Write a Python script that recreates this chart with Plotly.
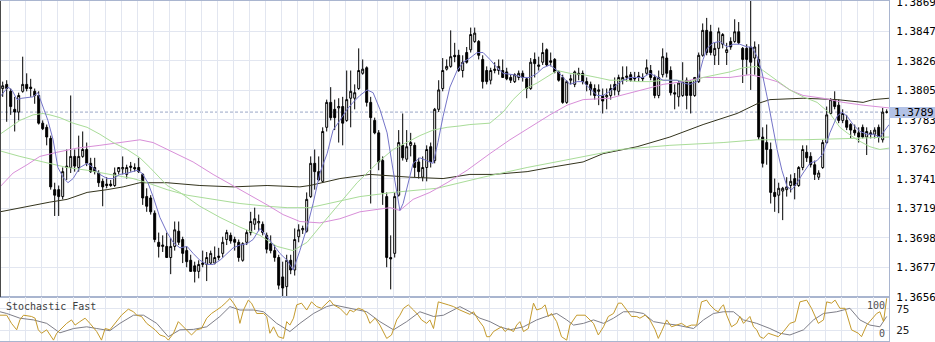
import plotly.graph_objects as go

# ---- OHLC bars ----
opens = [
    1.3806, 1.3809, 1.3804, 1.3791, 1.3789, 1.3804, 1.3809, 1.3807, 1.3804, 1.3801,
    1.3781, 1.3778, 1.3770, 1.3733, 1.3733, 1.3728, 1.3749, 1.3749, 1.3757, 1.3749,
    1.3757, 1.3762, 1.3752, 1.3749, 1.3745, 1.3739, 1.3737, 1.3737, 1.3736, 1.3746,
    1.3748, 1.3744, 1.3749, 1.3749, 1.3749, 1.3744, 1.3728, 1.3727, 1.3716, 1.3695,
    1.3692, 1.3692, 1.3684, 1.3692, 1.3703, 1.3697, 1.3689, 1.3682, 1.3678, 1.3674,
    1.3679, 1.3679, 1.3680, 1.3680, 1.3684, 1.3687, 1.3697, 1.3700, 1.3697, 1.3695,
    1.3682, 1.3695, 1.3702, 1.3708, 1.3709, 1.3708, 1.3700, 1.3694, 1.3689, 1.3684,
    1.3670, 1.3663, 1.3682, 1.3675, 1.3699, 1.3704, 1.3703, 1.3728, 1.3752, 1.3746,
    1.3739, 1.3778, 1.3796, 1.3791, 1.3792, 1.3793, 1.3783, 1.3799, 1.3799, 1.3806,
    1.3817, 1.3821, 1.3796, 1.3783, 1.3774, 1.3754, 1.3728, 1.3684, 1.3687, 1.3729,
    1.3765, 1.3755, 1.3765, 1.3765, 1.3753, 1.3742, 1.3749, 1.3764, 1.3754, 1.3791,
    1.3806, 1.3820, 1.3822, 1.3830, 1.3830, 1.3819, 1.3832, 1.3834, 1.3840, 1.3840,
    1.3827, 1.3819, 1.3812, 1.3819, 1.3819, 1.3819, 1.3818, 1.3814, 1.3811, 1.3814,
    1.3817, 1.3813, 1.3806, 1.3827, 1.3822, 1.3825, 1.3834, 1.3826, 1.3827, 1.3818,
    1.3814, 1.3796, 1.3812, 1.3809, 1.3817, 1.3817, 1.3811, 1.3809, 1.3806, 1.3804,
    1.3801, 1.3800, 1.3801, 1.3809, 1.3804, 1.3812, 1.3814, 1.3816, 1.3814, 1.3814,
    1.3814, 1.3817, 1.3819, 1.3814, 1.3801, 1.3816, 1.3828, 1.3819, 1.3803, 1.3800,
    1.3801, 1.3812, 1.3811, 1.3801, 1.3811, 1.3830, 1.3848, 1.3847, 1.3830, 1.3835,
    1.3838, 1.3832, 1.3840, 1.3840, 1.3847, 1.3835, 1.3835, 1.3836, 1.3828, 1.3827,
    1.3771, 1.3767, 1.3762, 1.3731, 1.3729, 1.3732, 1.3733, 1.3736, 1.3741, 1.3736,
    1.3749, 1.3760, 1.3757, 1.3751, 1.3742, 1.3749, 1.3767, 1.3788, 1.3798, 1.3794,
    1.3783, 1.3783, 1.3780, 1.3776, 1.3774, 1.3778, 1.3771, 1.3774, 1.3773, 1.3778,
    1.3769, 1.3789,
]
highs = [
    1.3811, 1.3812, 1.3806, 1.3800, 1.3803, 1.3829, 1.3817, 1.3813, 1.3806, 1.3804,
    1.3783, 1.3780, 1.3772, 1.3738, 1.3736, 1.3749, 1.3762, 1.3801, 1.3762, 1.3772,
    1.3775, 1.3767, 1.3756, 1.3756, 1.3747, 1.3741, 1.3742, 1.3740, 1.3749, 1.3749,
    1.3757, 1.3751, 1.3753, 1.3752, 1.3756, 1.3745, 1.3734, 1.3729, 1.3718, 1.3702,
    1.3700, 1.3702, 1.3698, 1.3710, 1.3710, 1.3699, 1.3692, 1.3686, 1.3681, 1.3682,
    1.3689, 1.3688, 1.3689, 1.3692, 1.3691, 1.3699, 1.3704, 1.3702, 1.3699, 1.3697,
    1.3695, 1.3704, 1.3717, 1.3720, 1.3715, 1.3710, 1.3702, 1.3700, 1.3693, 1.3686,
    1.3681, 1.3686, 1.3686, 1.3705, 1.3708, 1.3707, 1.3731, 1.3757, 1.3762, 1.3757,
    1.3778, 1.3798, 1.3807, 1.3798, 1.3799, 1.3800, 1.3819, 1.3819, 1.3809, 1.3835,
    1.3827, 1.3822, 1.3800, 1.3785, 1.3776, 1.3757, 1.3731, 1.3700, 1.3731, 1.3776,
    1.3788, 1.3776, 1.3774, 1.3767, 1.3756, 1.3757, 1.3765, 1.3767, 1.3792, 1.3812,
    1.3828, 1.3827, 1.3848, 1.3839, 1.3834, 1.3830, 1.3836, 1.3850, 1.3850, 1.3841,
    1.3830, 1.3822, 1.3821, 1.3825, 1.3827, 1.3827, 1.3821, 1.3816, 1.3817, 1.3819,
    1.3819, 1.3814, 1.3828, 1.3832, 1.3829, 1.3839, 1.3835, 1.3832, 1.3828, 1.3819,
    1.3816, 1.3812, 1.3816, 1.3819, 1.3821, 1.3819, 1.3814, 1.3811, 1.3809, 1.3809,
    1.3806, 1.3806, 1.3809, 1.3814, 1.3816, 1.3822, 1.3822, 1.3818, 1.3818, 1.3818,
    1.3817, 1.3827, 1.3823, 1.3816, 1.3819, 1.3835, 1.3832, 1.3822, 1.3809, 1.3812,
    1.3825, 1.3814, 1.3812, 1.3814, 1.3832, 1.3853, 1.3857, 1.3852, 1.3839, 1.3850,
    1.3846, 1.3839, 1.3843, 1.3856, 1.3854, 1.3836, 1.3838, 1.3870, 1.3840, 1.3838,
    1.3778, 1.3780, 1.3767, 1.3741, 1.3738, 1.3735, 1.3742, 1.3744, 1.3745, 1.3750,
    1.3765, 1.3765, 1.3760, 1.3754, 1.3747, 1.3769, 1.3793, 1.3799, 1.3804, 1.3798,
    1.3791, 1.3787, 1.3781, 1.3780, 1.3778, 1.3780, 1.3778, 1.3776, 1.3778, 1.3780,
    1.3792, 1.3791,
]
lows = [
    1.3800, 1.3782, 1.3787, 1.3775, 1.3783, 1.3803, 1.3804, 1.3800, 1.3795, 1.3780,
    1.3776, 1.3765, 1.3733, 1.3714, 1.3714, 1.3726, 1.3740, 1.3745, 1.3746, 1.3746,
    1.3756, 1.3750, 1.3745, 1.3744, 1.3735, 1.3721, 1.3734, 1.3735, 1.3735, 1.3744,
    1.3744, 1.3741, 1.3746, 1.3746, 1.3745, 1.3722, 1.3717, 1.3715, 1.3695, 1.3684,
    1.3688, 1.3684, 1.3672, 1.3689, 1.3693, 1.3680, 1.3677, 1.3674, 1.3666, 1.3669,
    1.3677, 1.3667, 1.3679, 1.3679, 1.3682, 1.3684, 1.3693, 1.3694, 1.3689, 1.3681,
    1.3681, 1.3693, 1.3700, 1.3704, 1.3703, 1.3700, 1.3687, 1.3687, 1.3681, 1.3661,
    1.3656, 1.3656, 1.3672, 1.3671, 1.3695, 1.3701, 1.3702, 1.3727, 1.3733, 1.3739,
    1.3738, 1.3775, 1.3783, 1.3776, 1.3767, 1.3765, 1.3782, 1.3778, 1.3791, 1.3805,
    1.3816, 1.3793, 1.3723, 1.3773, 1.3747, 1.3722, 1.3677, 1.3661, 1.3684, 1.3728,
    1.3754, 1.3753, 1.3757, 1.3742, 1.3741, 1.3739, 1.3739, 1.3749, 1.3752, 1.3789,
    1.3804, 1.3819, 1.3821, 1.3825, 1.3818, 1.3814, 1.3824, 1.3832, 1.3839, 1.3827,
    1.3806, 1.3809, 1.3809, 1.3817, 1.3816, 1.3814, 1.3812, 1.3810, 1.3810, 1.3812,
    1.3811, 1.3799, 1.3805, 1.3814, 1.3819, 1.3823, 1.3822, 1.3822, 1.3817, 1.3811,
    1.3795, 1.3795, 1.3809, 1.3807, 1.3812, 1.3809, 1.3804, 1.3801, 1.3798, 1.3794,
    1.3788, 1.3791, 1.3798, 1.3801, 1.3801, 1.3809, 1.3811, 1.3811, 1.3811, 1.3811,
    1.3811, 1.3816, 1.3812, 1.3799, 1.3799, 1.3814, 1.3814, 1.3801, 1.3791, 1.3793,
    1.3800, 1.3791, 1.3788, 1.3800, 1.3810, 1.3829, 1.3830, 1.3830, 1.3823, 1.3823,
    1.3835, 1.3823, 1.3834, 1.3839, 1.3838, 1.3810, 1.3816, 1.3805, 1.3816, 1.3769,
    1.3749, 1.3751, 1.3723, 1.3717, 1.3716, 1.3711, 1.3728, 1.3731, 1.3726, 1.3735,
    1.3747, 1.3753, 1.3749, 1.3740, 1.3740, 1.3748, 1.3766, 1.3787, 1.3791, 1.3781,
    1.3781, 1.3776, 1.3770, 1.3772, 1.3767, 1.3770, 1.3758, 1.3770, 1.3770, 1.3767,
    1.3767, 1.3788,
]
closes = [
    1.3808, 1.3806, 1.3793, 1.3789, 1.3801, 1.3809, 1.3806, 1.3806, 1.3801, 1.3781,
    1.3777, 1.3771, 1.3735, 1.3729, 1.3728, 1.3746, 1.3750, 1.3757, 1.3750, 1.3757,
    1.3762, 1.3752, 1.3746, 1.3746, 1.3738, 1.3735, 1.3736, 1.3736, 1.3745, 1.3749,
    1.3749, 1.3749, 1.3750, 1.3748, 1.3746, 1.3727, 1.3721, 1.3717, 1.3697, 1.3692,
    1.3693, 1.3684, 1.3692, 1.3704, 1.3695, 1.3687, 1.3681, 1.3674, 1.3674, 1.3679,
    1.3680, 1.3684, 1.3687, 1.3684, 1.3685, 1.3695, 1.3702, 1.3696, 1.3695, 1.3684,
    1.3694, 1.3702, 1.3710, 1.3712, 1.3710, 1.3702, 1.3690, 1.3689, 1.3684, 1.3664,
    1.3662, 1.3682, 1.3675, 1.3697, 1.3704, 1.3705, 1.3726, 1.3752, 1.3746, 1.3740,
    1.3775, 1.3796, 1.3785, 1.3785, 1.3793, 1.3781, 1.3798, 1.3804, 1.3803, 1.3819,
    1.3820, 1.3796, 1.3785, 1.3774, 1.3753, 1.3731, 1.3684, 1.3683, 1.3728, 1.3767,
    1.3756, 1.3764, 1.3767, 1.3749, 1.3746, 1.3749, 1.3762, 1.3753, 1.3791, 1.3805,
    1.3819, 1.3822, 1.3829, 1.3829, 1.3819, 1.3825, 1.3825, 1.3845, 1.3846, 1.3830,
    1.3811, 1.3811, 1.3819, 1.3820, 1.3822, 1.3814, 1.3813, 1.3812, 1.3816, 1.3817,
    1.3814, 1.3806, 1.3825, 1.3824, 1.3823, 1.3832, 1.3823, 1.3825, 1.3818, 1.3812,
    1.3796, 1.3811, 1.3813, 1.3818, 1.3816, 1.3811, 1.3809, 1.3805, 1.3801, 1.3805,
    1.3797, 1.3801, 1.3806, 1.3805, 1.3814, 1.3814, 1.3815, 1.3812, 1.3813, 1.3815,
    1.3813, 1.3821, 1.3814, 1.3801, 1.3814, 1.3829, 1.3817, 1.3803, 1.3802, 1.3810,
    1.3811, 1.3801, 1.3801, 1.3814, 1.3830, 1.3848, 1.3832, 1.3832, 1.3835, 1.3847,
    1.3845, 1.3834, 1.3836, 1.3847, 1.3839, 1.3827, 1.3827, 1.3825, 1.3836, 1.3771,
    1.3752, 1.3762, 1.3731, 1.3728, 1.3734, 1.3734, 1.3735, 1.3739, 1.3736, 1.3749,
    1.3762, 1.3756, 1.3751, 1.3744, 1.3745, 1.3767, 1.3787, 1.3798, 1.3793, 1.3783,
    1.3788, 1.3778, 1.3776, 1.3774, 1.3771, 1.3771, 1.3775, 1.3773, 1.3776, 1.3771,
    1.3789, 1.3789,
]
bar_index = list(range(len(opens)))

# ---- moving averages (bar position, price) ----
ma_fast_pos = [
    -0.68, 1.3, 2.3, 3.6, 4.8, 7.6, 8.8, 10.1, 11.3, 12.6,
    13.8, 15.1, 16.3, 17.6, 19.3, 21.1, 22.6, 24.3, 26.1, 27.6,
    29.3, 31.3, 33.6, 34.8, 36.3, 37.6, 39.3, 41.1, 42.6, 44.3,
    46.1, 47.6, 49.3, 51.1, 52.6, 54.3, 56.1, 57.6, 59.3, 61.1,
    62.6, 64.3, 66.1, 67.6, 69.3, 71.1, 72.6, 74.3, 76.1, 77.6,
    79.3, 81.1, 82.6, 84.3, 86.1, 87.6, 89.3, 91.1, 92.6, 94.3,
    96.1, 97.6, 98.6, 99.3, 100.1, 101.3, 102.6, 104.3, 106.1, 107.6,
    108.8, 110.1, 111.8, 113.6, 115.1, 116.8, 118.6, 120.1, 121.8, 123.6,
    125.1, 127.6, 130.1, 131.8, 133.6, 135.1, 136.8, 138.6, 140.1, 141.8,
    143.6, 145.1, 146.8, 148.6, 150.1, 151.8, 153.6, 155.1, 156.8, 158.6,
    160.1, 161.8, 163.6, 165.1, 166.8, 168.6, 170.1, 171.8, 173.6, 174.3,
    175.1, 176.1, 177.6, 179.3, 181.1, 182.6, 184.3, 186.1, 187.3, 188.6,
    189.8, 191.1, 192.3, 193.6, 194.8, 196.1, 197.3, 198.6, 200.1, 201.8,
    203.6, 205.1, 206.8, 208.6, 209.8, 211.1, 212.6, 214.3, 216.1, 217.6,
    219.3, 221.1, 221.6,
]
ma_fast_val = [
    1.3800, 1.3807, 1.3805, 1.3798, 1.3799, 1.3800, 1.3803, 1.3793, 1.3783, 1.3769,
    1.3749, 1.3742, 1.3738, 1.3741, 1.3749, 1.3752, 1.3749, 1.3744, 1.3741, 1.3741,
    1.3744, 1.3745, 1.3747, 1.3745, 1.3738, 1.3728, 1.3713, 1.3702, 1.3695, 1.3691,
    1.3692, 1.3687, 1.3682, 1.3679, 1.3679, 1.3682, 1.3687, 1.3691, 1.3693, 1.3694,
    1.3697, 1.3705, 1.3699, 1.3693, 1.3687, 1.3682, 1.3675, 1.3689, 1.3706, 1.3723,
    1.3745, 1.3759, 1.3776, 1.3783, 1.3791, 1.3796, 1.3801, 1.3805, 1.3803, 1.3791,
    1.3774, 1.3747, 1.3728, 1.3718, 1.3723, 1.3738, 1.3752, 1.3756, 1.3754, 1.3752,
    1.3767, 1.3786, 1.3807, 1.3819, 1.3825, 1.3828, 1.3832, 1.3832, 1.3827, 1.3821,
    1.3817, 1.3816, 1.3814, 1.3814, 1.3817, 1.3821, 1.3823, 1.3819, 1.3814, 1.3809,
    1.3811, 1.3811, 1.3806, 1.3801, 1.3801, 1.3804, 1.3809, 1.3812, 1.3814, 1.3814,
    1.3814, 1.3817, 1.3814, 1.3812, 1.3812, 1.3812, 1.3810, 1.3809, 1.3811, 1.3818,
    1.3827, 1.3835, 1.3839, 1.3840, 1.3836, 1.3838, 1.3838, 1.3836, 1.3836, 1.3829,
    1.3818, 1.3800, 1.3781, 1.3762, 1.3747, 1.3735, 1.3733, 1.3738, 1.3745, 1.3752,
    1.3754, 1.3759, 1.3774, 1.3786, 1.3789, 1.3786, 1.3780, 1.3775, 1.3773, 1.3773,
    1.3771, 1.3778, 1.3780,
]
ma_mid_pos = [
    -0.68, 1.8, 4.3, 7.6, 10.1, 11.8, 14.3, 17.6, 21.1, 24.3,
    27.6, 31.1, 34.3, 36.8, 39.3, 41.1, 44.3, 49.3, 54.3, 59.3,
    64.3, 68.6, 72.6, 76.1, 80.1, 84.3, 88.6, 91.8, 94.3, 97.6,
    101.1, 104.3, 107.6, 111.1, 114.3, 116.8, 121.8, 125.1, 127.6, 130.1,
    133.6, 136.8, 138.6, 141.8, 145.1, 148.6, 151.8, 155.1, 158.6, 161.8,
    165.1, 168.6, 171.8, 175.1, 178.6, 181.8, 185.1, 188.6, 190.1, 193.6,
    196.8, 200.1, 203.6, 206.8, 209.3, 211.1, 213.6, 216.8, 219.3, 221.6,
]
ma_mid_val = [
    1.3773, 1.3778, 1.3783, 1.3787, 1.3788, 1.3787, 1.3785, 1.3781, 1.3778, 1.3773,
    1.3767, 1.3762, 1.3756, 1.3749, 1.3741, 1.3736, 1.3731, 1.3721, 1.3713, 1.3706,
    1.3700, 1.3692, 1.3689, 1.3695, 1.3709, 1.3723, 1.3738, 1.3747, 1.3754, 1.3762,
    1.3767, 1.3772, 1.3776, 1.3778, 1.3779, 1.3780, 1.3781, 1.3789, 1.3798, 1.3805,
    1.3810, 1.3816, 1.3819, 1.3817, 1.3816, 1.3814, 1.3812, 1.3812, 1.3811, 1.3811,
    1.3812, 1.3812, 1.3811, 1.3814, 1.3816, 1.3818, 1.3821, 1.3822, 1.3819, 1.3812,
    1.3805, 1.3800, 1.3796, 1.3788, 1.3778, 1.3774, 1.3769, 1.3764, 1.3762, 1.3763,
]
ma_slow_pos = [
    -0.68, 4.3, 10.1, 16.1, 21.1, 26.8, 32.6, 36.1, 41.1, 46.1,
    52.6, 59.3, 66.1, 71.1, 76.8, 89.3, 97.6, 108.6, 120.1, 131.1,
    140.1, 154.3, 166.8, 180.1, 188.6, 200.1, 212.6, 221.6,
]
ma_slow_val = [
    1.3761, 1.3757, 1.3753, 1.3749, 1.3747, 1.3744, 1.3741, 1.3738, 1.3733, 1.3729,
    1.3726, 1.3723, 1.3721, 1.3720, 1.3720, 1.3728, 1.3731, 1.3734, 1.3742, 1.3749,
    1.3754, 1.3762, 1.3765, 1.3767, 1.3769, 1.3769, 1.3770, 1.3771,
]
ma_violet_pos = [
    -0.68, 2.6, 6.1, 9.3, 13.6, 18.6, 24.3, 29.3, 34.3, 37.6,
    42.6, 47.6, 52.6, 57.6, 62.6, 66.1, 70.1, 74.3, 79.3, 84.3,
    89.3, 93.6, 96.8, 99.3, 102.6, 106.8, 111.1, 116.1, 119.3, 121.8,
    126.8, 131.8, 136.8, 141.1, 145.1, 151.8, 158.6, 165.1, 170.1, 175.1,
    181.8, 186.8, 190.1, 193.6, 196.8, 200.1, 205.1, 210.1, 215.1, 221.6,
]
ma_violet_val = [
    1.3735, 1.3745, 1.3751, 1.3757, 1.3760, 1.3763, 1.3765, 1.3767, 1.3769, 1.3767,
    1.3760, 1.3753, 1.3744, 1.3736, 1.3728, 1.3722, 1.3715, 1.3710, 1.3709, 1.3712,
    1.3717, 1.3719, 1.3720, 1.3718, 1.3726, 1.3731, 1.3738, 1.3747, 1.3754, 1.3759,
    1.3769, 1.3778, 1.3787, 1.3794, 1.3798, 1.3799, 1.3804, 1.3809, 1.3811, 1.3814,
    1.3814, 1.3816, 1.3814, 1.3811, 1.3805, 1.3801, 1.3799, 1.3796, 1.3794, 1.3792,
]
ma_long_pos = [
    -0.68, 4.3, 11.8, 16.1, 21.1, 26.1, 30.1, 34.3, 41.1, 49.3,
    57.6, 66.1, 74.3, 76.8, 84.3, 91.8, 96.8, 101.8, 110.1, 116.8,
    122.6, 131.1, 136.8, 145.1, 150.1, 158.6, 166.8, 175.1, 183.6, 188.6,
    191.8, 200.1, 208.6, 215.1, 217.6, 221.6,
]
ma_long_val = [
    1.3717, 1.3720, 1.3724, 1.3726, 1.3731, 1.3733, 1.3735, 1.3738, 1.3738, 1.3736,
    1.3735, 1.3736, 1.3735, 1.3736, 1.3741, 1.3744, 1.3743, 1.3742, 1.3741, 1.3744,
    1.3744, 1.3746, 1.3749, 1.3753, 1.3759, 1.3764, 1.3771, 1.3780, 1.3788, 1.3795,
    1.3798, 1.3799, 1.3798, 1.3796, 1.3798, 1.3799,
]

# ---- Stochastic Fast (%K and %D) ----
stoch_k_pos = [
    -0.68, 1.0, 2.2, 3.5, 4.3, 5.2, 7.2, 8.1, 8.9, 9.7,
    11.0, 11.8, 12.7, 13.5, 14.7, 16.0, 17.2, 18.1, 19.3, 20.6,
    21.8, 23.5, 24.7, 25.6, 26.8, 28.1, 29.7, 31.4, 32.7, 33.5,
    34.7, 36.0, 38.1, 39.3, 40.6, 41.4, 42.7, 43.9, 44.7, 46.0,
    47.2, 48.5, 49.7, 51.0, 52.2, 53.5, 54.7, 56.0, 56.8, 57.7,
    58.5, 59.3, 60.2, 61.4, 62.2, 63.5, 65.2, 66.0, 66.8, 67.7,
    68.9, 70.2, 71.0, 71.8, 72.7, 73.5, 74.7, 76.0, 77.2, 78.5,
    79.7, 81.8, 82.7, 84.3, 86.0, 86.8, 87.7, 88.9, 90.2, 91.0,
    91.8, 93.1, 94.3, 96.0, 97.2, 98.5, 99.3, 100.2, 101.4, 102.7,
    103.9, 104.7, 106.0, 106.8, 107.7, 108.9, 110.2, 111.4, 112.7, 114.3,
    116.8, 117.7, 118.9, 120.2, 121.0, 121.8, 122.7, 123.5, 124.7, 125.6,
    126.4, 127.7, 128.5, 129.3, 130.2, 131.4, 132.7, 133.5, 134.7, 135.6,
    136.4, 137.2, 138.5, 139.7, 141.0, 141.8, 143.5, 145.6, 146.4, 147.7,
    148.9, 150.2, 151.4, 152.7, 153.9, 154.7, 156.0, 157.2, 158.5, 159.3,
    160.6, 161.8, 163.1, 163.9, 164.7, 166.0, 167.2, 168.5, 169.7, 171.0,
    172.2, 173.5, 174.7, 176.0, 176.8, 178.1, 178.9, 179.7, 180.2, 181.0,
    182.2, 183.5, 184.3, 185.2, 186.8, 187.7, 188.5, 189.3, 190.2, 191.4,
    192.7, 193.9, 195.2, 196.8, 198.1, 199.3, 201.0, 202.2, 203.9, 205.2,
    206.0, 207.2, 208.1, 209.3, 210.6, 212.2, 213.9, 214.7, 216.0, 217.2,
    218.5, 219.3, 220.2, 221.0,
]
stoch_k_val = [
    60, 60, 41, 26, 49, 60, 57, 53, 26, 18,
    26, 14, 2, 18, 29, 41, 49, 37, 45, 53,
    41, 22, 2, 29, 26, 41, 60, 74, 68, 60,
    57, 41, 26, 14, 10, 2, 18, 45, 37, 26,
    14, 26, 29, 53, 64, 72, 80, 91, 99, 88,
    76, 41, 72, 95, 88, 64, 64, 57, 18, 33,
    10, 6, 45, 37, 53, 84, 88, 72, 91, 80,
    76, 95, 84, 76, 60, 72, 68, 76, 72, 60,
    41, 53, 37, 6, 14, 49, 60, 76, 84, 72,
    60, 49, 41, 49, 29, 91, 88, 84, 80, 72,
    62, 68, 49, 33, 10, 10, 22, 26, 33, 22,
    29, 22, 37, 45, 22, 29, 88, 72, 76, 84,
    57, 64, 45, 10, 2, 37, 60, 60, 53, 41,
    14, 33, 57, 64, 88, 88, 72, 57, 57, 53,
    60, 49, 26, 6, 22, 49, 33, 37, 41, 33,
    37, 37, 91, 95, 84, 72, 68, 80, 84, 60,
    33, 41, 57, 41, 57, 33, 26, 10, 6, 18,
    14, 10, 22, 41, 45, 91, 95, 76, 41, 49,
    91, 88, 95, 76, 76, 26, 18, 10, 37, 49,
    64, 68, 45, 99,
]
stoch_d_pos = [
    -0.68, 1.0, 4.3, 7.7, 11.0, 14.3, 17.7, 21.0, 23.5, 26.8,
    29.3, 32.7, 35.2, 38.5, 41.4, 44.3, 47.7, 51.0, 54.3, 56.8,
    59.3, 62.7, 65.2, 68.5, 71.8, 74.3, 77.7, 81.0, 82.7, 86.8,
    89.3, 91.0, 94.3, 97.7, 101.0, 104.3, 107.7, 110.2, 114.3, 116.8,
    119.3, 121.8, 124.3, 126.8, 130.2, 133.5, 136.8, 138.5, 141.0, 142.7,
    145.2, 147.7, 150.2, 152.7, 155.2, 157.7, 160.2, 162.7, 165.2, 168.5,
    172.7, 175.2, 177.7, 180.2, 182.7, 185.2, 188.5, 191.8, 194.3, 196.8,
    200.2, 202.7, 205.2, 208.5, 211.8, 214.3, 216.8, 219.3, 221.0,
]
stoch_d_val = [
    68, 64, 53, 49, 41, 19, 29, 33, 29, 24,
    41, 60, 60, 41, 10, 26, 27, 33, 57, 80,
    72, 72, 68, 41, 22, 41, 64, 80, 84, 76,
    72, 68, 45, 26, 45, 68, 57, 60, 80, 68,
    53, 45, 33, 26, 33, 49, 60, 64, 49, 37,
    41, 49, 41, 53, 68, 68, 64, 45, 41, 37,
    29, 49, 64, 68, 68, 49, 41, 29, 18, 14,
    26, 49, 64, 68, 76, 49, 37, 33, 57,
]

# ---- axis ticks ----
price_ticks = [1.36555, 1.36768, 1.36981, 1.37194, 1.37407, 1.37620,
               1.37833, 1.38046, 1.38259, 1.38472, 1.38685]
price_tick_text = ["1.3656", "1.3677", "1.3698", "1.3719", "1.3741", "1.3762",
                   "1.3783", "1.3805", "1.3826", "1.3847", "1.3869"]
stoch_ticks = [25, 75]
stoch_tick_text = ["25", "75"]

# ---- styling ----
GRID = "#e2e6f0"
BORDER = "#a9b5cf"
MONO = "DejaVu Sans Mono"
W, H = 935, 342
PLOT_W = 889
SPLIT = 0.12941  # bottom of the price pane in paper units

fig = go.Figure()

line_specs = [
    (ma_long_pos, ma_long_val, "#33331c"),
    (ma_slow_pos, ma_slow_val, "#a9dc98"),
    (ma_violet_pos, ma_violet_val, "#d88ed8"),
    (ma_mid_pos, ma_mid_val, "#a9dc98"),
    (ma_fast_pos, ma_fast_val, "#7474c8"),
]
for xs, ys, col in line_specs:
    fig.add_trace(go.Scatter(x=xs, y=ys, mode="lines", xaxis="x", yaxis="y",
                             line=dict(color=col, width=1), hoverinfo="skip"))

fig.add_trace(go.Candlestick(
    x=bar_index, open=opens, high=highs, low=lows, close=closes,
    xaxis="x", yaxis="y",
    increasing=dict(line=dict(color="#000000", width=1), fillcolor="#ffffff"),
    decreasing=dict(line=dict(color="#000000", width=1), fillcolor="#000000"),
    whiskerwidth=0, hoverinfo="skip",
))

fig.add_trace(go.Scatter(x=stoch_d_pos, y=stoch_d_val, mode="lines", xaxis="x2", yaxis="y2",
                         line=dict(color="#7e7e88", width=1), hoverinfo="skip"))
fig.add_trace(go.Scatter(x=stoch_k_pos, y=stoch_k_val, mode="lines", xaxis="x2", yaxis="y2",
                         line=dict(color="#c49a2c", width=1), hoverinfo="skip"))

last_close = closes[-1]

shapes = [
    # dashed line at the last close
    dict(type="line", xref="x", yref="y", x0=-0.675, x1=221.575, y0=last_close, y1=last_close,
         line=dict(color="#9aa6c6", width=1, dash="3px,2px"), layer="below"),
    # dark left edge of the price pane
    dict(type="line", xref="paper", yref="paper", x0=0, x1=0, y0=SPLIT, y1=1,
         line=dict(color="#4a4a4a", width=2)),
    # last-price marker box on the right scale
    dict(type="rect", xref="paper", yref="y", x0=1.0, x1=W / PLOT_W,
         y0=last_close - 0.00043, y1=last_close + 0.00037,
         fillcolor="#b3c2e6", line=dict(width=0), layer="above"),
]

annotations = [
    dict(xref="paper", yref="y", x=1.0, y=last_close, xanchor="left", yanchor="middle",
         xshift=3, text=f"{last_close:.4f}", showarrow=False,
         font=dict(family=MONO, size=11, color="#000000")),
    dict(xref="paper", yref="y2", x=0.005, y=100, xanchor="left", yanchor="top", yshift=-1,
         text="Stochastic Fast", showarrow=False,
         font=dict(family=MONO, size=10, color="#404040")),
    dict(xref="paper", yref="y2", x=0.998, y=100, xanchor="right", yanchor="top",
         text="100", showarrow=False, font=dict(family=MONO, size=10, color="#505050")),
    dict(xref="paper", yref="y2", x=0.998, y=0, xanchor="right", yanchor="bottom",
         text="0", showarrow=False, font=dict(family=MONO, size=10, color="#505050")),
]

xaxis_common = dict(range=[-0.675, 221.575], tick0=1.65, dtick=4, showgrid=True,
                    gridcolor=GRID, gridwidth=1, showticklabels=False, ticks="",
                    zeroline=False, showline=True, mirror=True, linecolor=BORDER, linewidth=1,
                    automargin=False)

fig.update_layout(
    width=W, height=H,
    margin=dict(l=0, r=W - PLOT_W, t=1, b=1, pad=0, autoexpand=False),
    paper_bgcolor="#ffffff", plot_bgcolor="#ffffff",
    showlegend=False, hovermode=False,
    xaxis=dict(domain=[0, 1], anchor="y", rangeslider=dict(visible=False), **xaxis_common),
    xaxis2=dict(domain=[0, 1], anchor="y2", matches="x", **xaxis_common),
    yaxis=dict(domain=[SPLIT, 1], anchor="x", side="right", automargin=False,
               range=[1.36555, 1.38692], tickvals=price_ticks, ticktext=price_tick_text,
               showgrid=True, gridcolor=GRID, zeroline=False, ticks="", ticklabelstandoff=4,
               ticklabeloverflow="allow",
               showline=True, mirror=True, linecolor=BORDER,
               tickfont=dict(family=MONO, size=11, color="#000000")),
    yaxis2=dict(domain=[0, SPLIT], anchor="x2", side="right", automargin=False,
                range=[0, 102.3], tickvals=stoch_ticks, ticktext=stoch_tick_text,
                showgrid=True, gridcolor=GRID, zeroline=False, ticks="", ticklabelstandoff=4,
                ticklabeloverflow="allow",
                showline=True, mirror=True, linecolor=BORDER,
                tickfont=dict(family=MONO, size=11, color="#202020")),
    shapes=shapes,
    annotations=annotations,
)

fig.write_html("out.html")
